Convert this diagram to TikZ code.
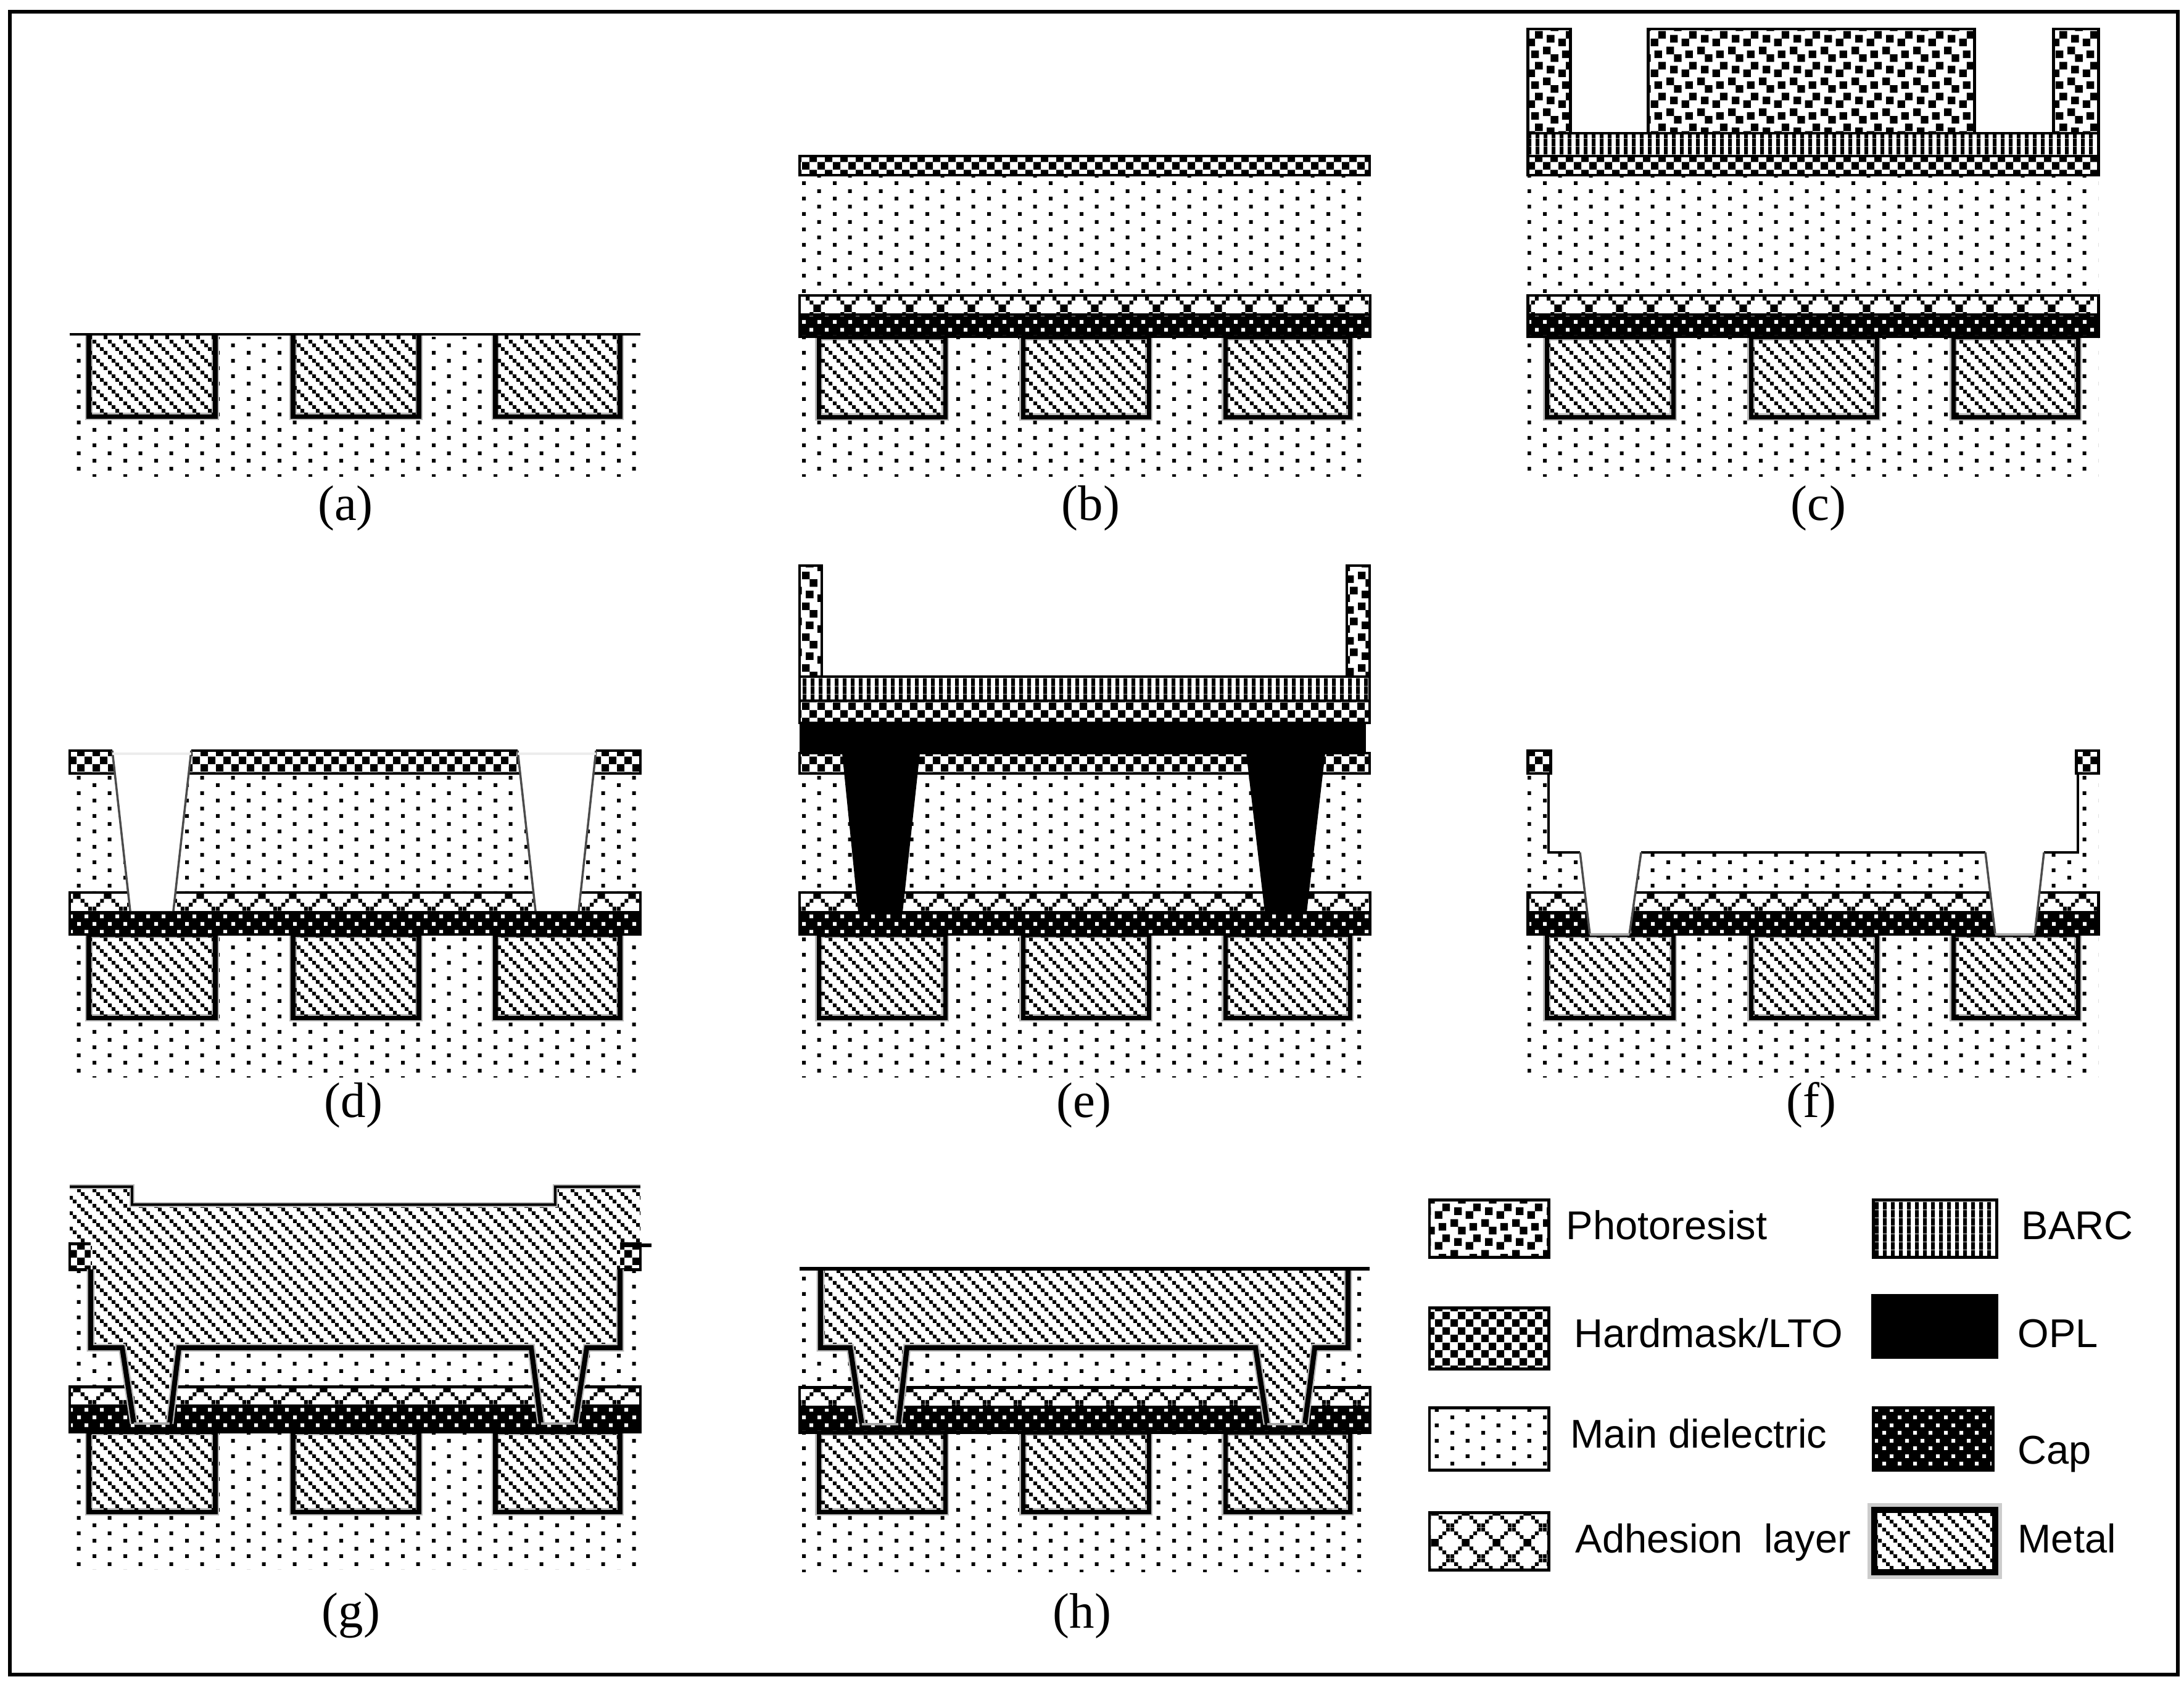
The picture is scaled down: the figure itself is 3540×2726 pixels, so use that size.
\documentclass[tikz,border=0pt]{standalone}
\usepackage{fontspec}
\setmainfont{Liberation Serif}
\newfontfamily\legendfont{Liberation Sans}
\usetikzlibrary{patterns}
\newcommand{\tilerect}[4]{\pgfpathrectangle{\pgfpoint{(#1)*0.01cm}{(#2)*0.01cm}}{\pgfpoint{(#3)*0.01cm}{(#4)*0.01cm}}}
\pgfdeclarepatternformonly{dieldots}{\pgfpointorigin}{\pgfpoint{0.5cm}{0.25cm}}{\pgfpoint{0.5cm}{0.25cm}}{%
  \tilerect{0}{0}{6.25}{6.25}\tilerect{25}{12.5}{6.25}{6.25}\pgfusepath{fill}}
\pgfdeclarepatternformonly{hmcheck}{\pgfpointorigin}{\pgfpoint{0.25cm}{0.25cm}}{\pgfpoint{0.25cm}{0.25cm}}{%
  \tilerect{0}{0}{12.5}{12.5}\tilerect{12.5}{12.5}{12.5}{12.5}\pgfusepath{fill}}
\pgfdeclarepatternformonly{capdots}{\pgfpointorigin}{\pgfpoint{0.25cm}{0.25cm}}{\pgfpoint{0.25cm}{0.25cm}}{%
  \tilerect{0}{0}{6.25}{6.25}\tilerect{12.5}{12.5}{6.25}{6.25}\pgfusepath{fill}}
\pgfdeclarepatternformonly{barclines}{\pgfpointorigin}{\pgfpoint{0.125cm}{0.125cm}}{\pgfpoint{0.125cm}{0.125cm}}{%
  \tilerect{0}{0}{6.25}{12.5}\pgfusepath{fill}}
\pgfdeclarepatternformonly{metalhatch}{\pgfpointorigin}{\pgfpoint{0.25cm}{0.25cm}}{\pgfpoint{0.25cm}{0.25cm}}{%
  \tilerect{0}{18.75}{6.25}{6.25}\tilerect{6.25}{12.5}{6.25}{6.25}\tilerect{12.5}{6.25}{6.25}{6.25}\tilerect{18.75}{0}{6.25}{6.25}\pgfusepath{fill}}
\pgfdeclarepatternformonly{resistblocks}{\pgfpointorigin}{\pgfpoint{0.5cm}{0.5cm}}{\pgfpoint{0.5cm}{0.5cm}}{%
  \tilerect{0}{37.5}{12.5}{12.5}\tilerect{12.5}{25}{12.5}{12.5}\tilerect{31.25}{31.25}{12.5}{12.5}%
  \tilerect{37.5}{12.5}{12.5}{12.5}\tilerect{6.25}{6.25}{12.5}{12.5}\tilerect{25}{0}{12.5}{12.5}\pgfusepath{fill}}
\pgfdeclarepatternformonly{adhesioncross}{\pgfpointorigin}{\pgfpoint{0.5cm}{0.5cm}}{\pgfpoint{0.5cm}{0.5cm}}{%
  \tilerect{0}{0}{6.25}{6.25}\tilerect{6.25}{6.25}{6.25}{6.25}\tilerect{12.5}{12.5}{6.25}{6.25}\tilerect{18.75}{18.75}{6.25}{6.25}%
  \tilerect{25}{25}{6.25}{6.25}\tilerect{31.25}{31.25}{6.25}{6.25}\tilerect{37.5}{37.5}{6.25}{6.25}\tilerect{43.75}{43.75}{6.25}{6.25}%
  \tilerect{0}{43.75}{6.25}{6.25}\tilerect{6.25}{37.5}{6.25}{6.25}\tilerect{12.5}{31.25}{6.25}{6.25}\tilerect{18.75}{25}{6.25}{6.25}%
  \tilerect{25}{18.75}{6.25}{6.25}\tilerect{31.25}{12.5}{6.25}{6.25}\tilerect{37.5}{6.25}{6.25}{6.25}\tilerect{43.75}{0}{6.25}{6.25}\pgfusepath{fill}}
\tikzset{
    dielfill/.style = {pattern=dieldots},
    hmlayer/.style = {draw=black,line width=1.4pt,preaction={fill=white},pattern=hmcheck},
    barclayer/.style = {draw=black,line width=1.4pt,preaction={fill=white},pattern=barclines},
    resist/.style = {draw=black,line width=1.4pt,preaction={fill=white},pattern=resistblocks},
    adhlayer/.style = {draw=black,line width=1.4pt,preaction={fill=white},pattern=adhesioncross},
    caplayer/.style = {draw=black,line width=1.4pt,preaction={fill=black},pattern=capdots,pattern color=white},
    metalbox/.style = {draw=black,line width=2pt,preaction={fill=white,draw=gray!55,line width=3.2pt},pattern=metalhatch},
    metalfill/.style = {preaction={fill=white},pattern=metalhatch},
    metaledge/.style = {draw=black,line width=2.3pt,line join=miter,preaction={draw=gray!55,line width=3.6pt}},
    viawall/.style = {draw=black!70,line width=1pt},
    viafloor/.style = {draw=gray!70,line width=1.3pt},
    caption/.style = {font=\fontsize{23}{25}\selectfont,inner sep=0pt},
    legendtext/.style = {font=\legendfont\fontsize{18.5}{20}\selectfont,anchor=base west,inner sep=0pt}
}
% three metal lines of one panel
\newcommand{\metalrow}[3]{\begin{scope}[shift={(#1,0)}]
  \foreach \ma/\mb in {31/236,362/566,690/892} \draw[metalbox] (\ma,#2) rectangle (\mb,#3);
\end{scope}}
% adhesion and cap of one panel
\newcommand{\adhcap}[4]{\draw[adhlayer] (#1,#2) rectangle (#1+925,#3);
  \draw[caplayer] (#1,#3) rectangle (#1+925,#4);}

\begin{document}
\begin{tikzpicture}[x=0.01cm,y=-0.01cm]
\path[use as bounding box] (0,0) rectangle (3540,2726);
\draw[line width=1.7pt] (16,19) rectangle (3530,2715);

% (a)
\path[dielfill] (113,546) rectangle (1038,772);
\begin{scope}
\clip (100,542) rectangle (1050,700);
\metalrow{113}{530}{675}
\end{scope}
\draw[line width=1.1pt] (113,542) -- (1038,542);
\node[caption] (labela) at (560,824) {(a)};

% (b)
\path[dielfill] (1296,284) rectangle (2220,772);
\metalrow{1296}{546}{676}
\adhcap{1296}{479}{510}{546}
\draw[hmlayer] (1296,253) rectangle (2220,284);
\node[caption] (labelb) at (1768,824) {(b)};

% (c)
\path[dielfill] (2476,284) rectangle (3401,772);
\metalrow{2476}{546}{676}
\adhcap{2476}{479}{510}{546}
\draw[hmlayer] (2476,253) rectangle (3401,284);
\draw[barclayer] (2476,216) rectangle (3401,253);
\draw[resist] (2476,47) rectangle (2545,216);
\draw[resist] (2671,47) rectangle (3200,216);
\draw[resist] (3328,47) rectangle (3401,216);
\node[caption] (labelc) at (2947,824) {(c)};

% (d)
\path[dielfill] (113,1254) rectangle (1038,1746);
\metalrow{113}{1515}{1650}
\adhcap{113}{1447}{1479}{1515}
\draw[hmlayer] (113,1217) rectangle (1038,1254);
\fill[white] (182,1214) -- (310,1214) -- (281,1477) -- (211,1477) -- cycle;
\fill[white] (839,1214) -- (966,1214) -- (938,1477) -- (868,1477) -- cycle;
\draw[viawall] (182,1217) -- (211,1477) (310,1217) -- (281,1477);
\draw[viawall] (839,1217) -- (868,1477) (966,1217) -- (938,1477);
\draw[gray!15,line width=1pt] (182,1222) -- (310,1222) (839,1222) -- (966,1222);
\node[caption] (labeld) at (573,1792) {(d)};

% (e)
\path[dielfill] (1296,1254) rectangle (2220,1746);
\metalrow{1296}{1515}{1650}
\adhcap{1296}{1447}{1479}{1515}
\draw[hmlayer] (1296,1221) rectangle (2220,1254);
\fill[black] (1296,1172) rectangle (2214,1221);
\fill[black] (1365,1221) -- (1491,1221) -- (1463,1479) -- (1391,1479) -- cycle;
\fill[black] (2020,1221) -- (2148,1221) -- (2118,1479) -- (2050,1479) -- cycle;
\draw[hmlayer] (1296,1136) rectangle (2220,1172);
\draw[barclayer] (1296,1097) rectangle (2220,1136);
\draw[resist] (1296,917) rectangle (1332,1097);
\draw[resist] (2183,917) rectangle (2220,1097);
\node[caption] (labele) at (1757,1792) {(e)};

% (f)
\path[dielfill] (2476,1254) rectangle (3401,1746);
\metalrow{2476}{1515}{1650}
\adhcap{2476}{1447}{1479}{1515}
\fill[white] (2510,1254) -- (2510,1382) -- (2561,1382) -- (2577,1515) -- (2641,1515) -- (2660,1382)
  -- (3218,1382) -- (3234,1515) -- (3298,1515) -- (3313,1382) -- (3368,1382) -- (3368,1254) -- cycle;
\draw[line width=1.3pt] (2510,1254) -- (2510,1382) -- (2561,1382);
\draw[line width=1.3pt] (2660,1382) -- (3218,1382);
\draw[line width=1.3pt] (3313,1382) -- (3368,1382) -- (3368,1254);
\draw[viawall] (2561,1382) -- (2577,1515) (2660,1382) -- (2641,1515);
\draw[viawall] (3218,1382) -- (3234,1515) (3313,1382) -- (3298,1515);
\draw[viafloor] (2577,1515) -- (2641,1515) (3234,1515) -- (3298,1515);
\draw[hmlayer] (2476,1217) rectangle (2513,1254);
\draw[hmlayer] (3365,1217) rectangle (3401,1254);
\node[caption] (labelf) at (2936,1792) {(f)};

% (g)
\path[dielfill] (113,2058) rectangle (1038,2544);
\metalrow{113}{2321}{2451}
\adhcap{113}{2248}{2279}{2321}
\draw[hmlayer] (113,2016) rectangle (150,2058);
\draw[hmlayer] (1000,2016) rectangle (1038,2058);
\draw[line width=1.5pt] (1000,2019) -- (1056,2019);
\path[metalfill] (113,1924) -- (214,1924) -- (214,1953) -- (900,1953) -- (900,1924) -- (1038,1924)
  -- (1038,2014) -- (1005,2014) -- (1005,2185) -- (951,2185) -- (932,2308) -- (877,2308) -- (861,2185)
  -- (290,2185) -- (275,2308) -- (217,2308) -- (198,2185) -- (147,2185) -- (147,2014) -- (113,2014) -- cycle;
\draw[line width=1.2pt,preaction={draw=gray!55,line width=2.4pt}] (113,1924) -- (214,1924) -- (214,1953) -- (900,1953) -- (900,1924) -- (1038,1924);
\draw[metaledge] (147,2058) -- (147,2185) -- (198,2185) -- (217,2308);
\draw[metaledge] (275,2308) -- (290,2185) -- (861,2185) -- (877,2308);
\draw[metaledge] (932,2308) -- (951,2185) -- (1005,2185) -- (1005,2058);
\draw[viafloor] (217,2308) -- (275,2308) (877,2308) -- (932,2308);
\node[caption] (labelg) at (569,2619) {(g)};

% (h)
\path[dielfill] (1296,2060) rectangle (2220,2548);
\metalrow{1296}{2322}{2451}
\adhcap{1296}{2249}{2281}{2322}
\path[metalfill] (1330,2057) -- (2185,2057) -- (2185,2185) -- (2131,2185) -- (2115,2309) -- (2054,2309) -- (2035,2185)
  -- (1470,2185) -- (1456,2309) -- (1397,2309) -- (1378,2185) -- (1330,2185) -- cycle;
\draw[metaledge] (1397,2309) -- (1378,2185) -- (1330,2185) -- (1330,2057);
\draw[metaledge] (1456,2309) -- (1470,2185) -- (2035,2185) -- (2054,2309);
\draw[metaledge] (2115,2309) -- (2131,2185) -- (2185,2185) -- (2185,2057);
\draw[viafloor] (1397,2309) -- (1456,2309) (2054,2309) -- (2115,2309);
\draw[line width=1.5pt] (1296,2057) -- (2220,2057);
\node[caption] (labelh) at (1754,2620) {(h)};

% legend
\draw[resist] (2317,1945) rectangle (2510,2038);
\node[legendtext] (photoresist) at (2538,2009) {Photoresist};
\draw[hmlayer] (2317,2120) rectangle (2510,2219);
\node[legendtext] (hardmask) at (2551,2184) {Hardmask/LTO};
\draw[line width=1.4pt,fill=white,pattern=dieldots] (2317,2282) rectangle (2510,2383);
\node[legendtext] (maindiel) at (2545,2347) {Main dielectric};
\draw[adhlayer] (2317,2452) rectangle (2510,2545);
\node[legendtext] (adhesion) at (2553,2517) {Adhesion\hspace{0.25em} layer};

\draw[barclayer] (3036,1945) rectangle (3236,2038);
\node[legendtext] (barc) at (3276,2009) {BARC};
\fill[black] (3033,2098) rectangle (3239,2203);
\node[legendtext] (opl) at (3270,2184) {OPL};
\draw[caplayer] (3036,2282) rectangle (3230,2383);
\node[legendtext] (capname) at (3270,2373) {Cap};
\fill[gray!40] (3027,2437) rectangle (3245,2560);
\draw[line width=3pt,preaction={fill=white},pattern=metalhatch] (3038,2448) rectangle (3234,2549);
\node[legendtext] (metalname) at (3270,2517) {Metal};
\end{tikzpicture}
\end{document}
